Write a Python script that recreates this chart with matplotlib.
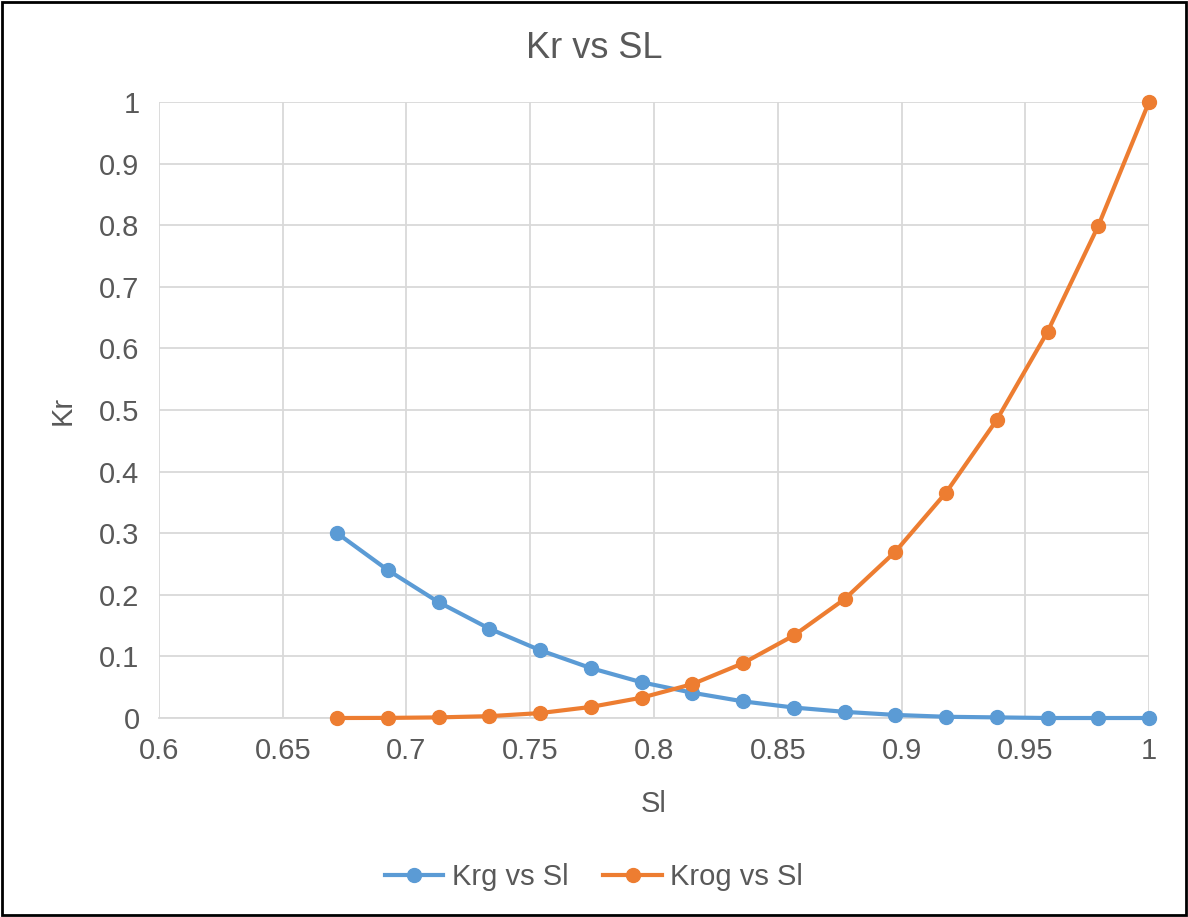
import matplotlib
matplotlib.use("Agg")
import matplotlib.pyplot as plt
import numpy as np

# data
sl = [0.672, 0.6925, 0.713, 0.7335, 0.754, 0.7745, 0.795, 0.8155, 0.836,
      0.8565, 0.877, 0.8975, 0.918, 0.9385, 0.959, 0.9795, 1.0]
krg = [0.300, 0.240, 0.188, 0.145, 0.110, 0.081, 0.058, 0.041, 0.027,
       0.017, 0.010, 0.005, 0.002, 0.001, 0.0, 0.0, 0.0]
krog = [0.0, 0.0002, 0.001, 0.003, 0.008, 0.018, 0.033, 0.055, 0.089,
        0.134, 0.193, 0.270, 0.366, 0.484, 0.627, 0.799, 1.0]

blue = "#5b9bd5"
orange = "#ed7d31"
txt = "#595959"

plt.rcParams['font.family'] = ['Liberation Sans', 'DejaVu Sans']

fig = plt.figure(figsize=(11.88, 9.17), dpi=100)
ax = fig.add_axes([0.1338, 0.217, 0.8334, 0.6718])

ax.plot(sl, krg, color=blue, lw=3, marker='o', ms=10, label='Krg vs Sl',
        zorder=3, clip_on=False)
ax.plot(sl, krog, color=orange, lw=3, marker='o', ms=10, label='Krog vs Sl',
        zorder=3, clip_on=False)

ax.set_xlim(0.6, 1.0)
ax.set_ylim(0, 1.0)
ax.set_xticks(np.arange(0.6, 1.001, 0.05))
ax.set_xticklabels(['0.6', '0.65', '0.7', '0.75', '0.8', '0.85', '0.9', '0.95', '1'])
ax.set_yticks(np.arange(0, 1.001, 0.1))
ax.set_yticklabels(['0', '0.1', '0.2', '0.3', '0.4', '0.5', '0.6', '0.7', '0.8', '0.9', '1'])
ax.grid(color='#d9d9d9', lw=1.3)
ax.set_axisbelow(True)
for s in ['top', 'right', 'left']:
    ax.spines[s].set_visible(False)
ax.spines['bottom'].set_color('#d9d9d9')
ax.spines['bottom'].set_linewidth(1.3)
ax.tick_params(length=0, labelsize=21, colors=txt, pad=14)

ax.set_xlabel('Sl', fontsize=21, color=txt, labelpad=18)
ax.set_ylabel('Kr', fontsize=21, color=txt, labelpad=16)
fig.text(0.5, 1 - 48 / 917, 'Kr vs SL', fontsize=26, color=txt, ha='center', va='center')

fig.legend(loc='lower center', bbox_to_anchor=(0.5, 0.0), ncol=2, frameon=False,
           fontsize=21, labelcolor=txt, handlelength=2.0, columnspacing=1.2,
           handletextpad=0.3)

# border around the whole figure
fig.patches.append(plt.Rectangle((0.002, 0.002), 0.996, 0.996, transform=fig.transFigure,
                                 fill=False, edgecolor='black', lw=2))

fig.savefig("out.png", dpi=100)
